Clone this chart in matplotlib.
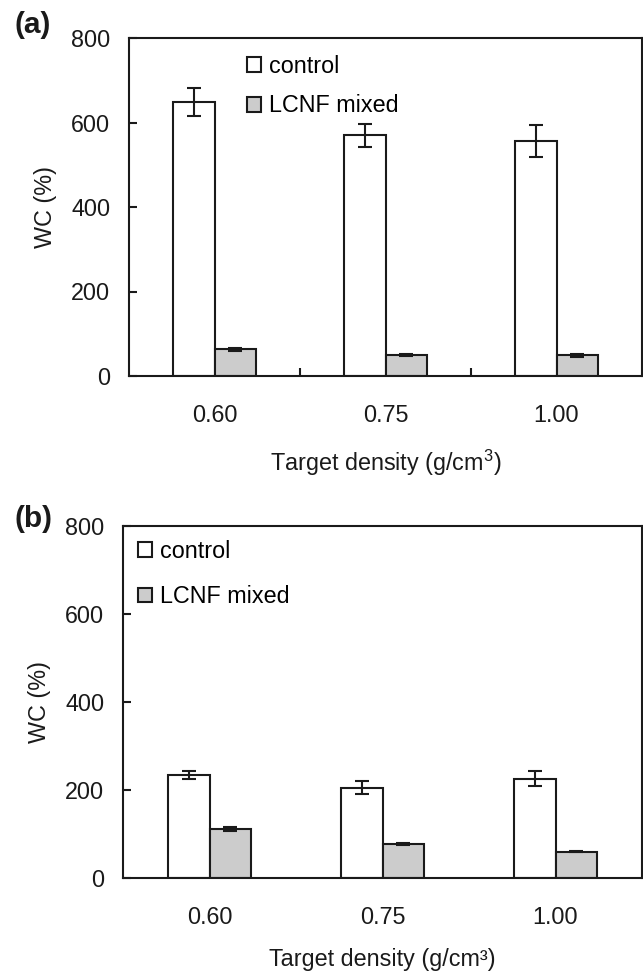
import matplotlib
matplotlib.use("Agg")
import matplotlib.pyplot as plt
import numpy as np

plt.rcParams['font.family'] = ['Liberation Sans', 'DejaVu Sans']
plt.rcParams['mathtext.default'] = 'regular'

# Data
densities = ["0.60", "0.75", "1.00"]
series = ["control", "LCNF mixed"]

# (a)
a_control = [648, 570, 556]
a_control_err = [33, 27, 37]
a_lcnf = [63, 50, 49]
a_lcnf_err = [3, 3, 3]

# (b)
b_control = [234, 205, 226]
b_control_err = [9, 15, 17]
b_lcnf = [111, 77, 60]
b_lcnf_err = [5, 3, 0.5]

fs = 16.8
w = 0.24
gray = "#cccccc"

fig = plt.figure(figsize=(6.43, 9.73), dpi=100)
ax_a = fig.add_axes([129 / 643, 1 - 376 / 973, 513 / 643, 338 / 973])
ax_b = fig.add_axes([123 / 643, 1 - 878 / 973, 519 / 643, 352 / 973])


def draw(ax, ctrl, ctrl_err, lcnf, lcnf_err):
    x = np.arange(len(densities))
    ekw = dict(elinewidth=1.5, capthick=1.5, ecolor="#1a1a1a")
    ax.bar(x - w / 2, ctrl, w, yerr=ctrl_err, capsize=5.3, color="white",
           edgecolor="#1a1a1a", linewidth=1.5, label=series[0], error_kw=ekw, zorder=2)
    ax.bar(x + w / 2, lcnf, w, yerr=lcnf_err, capsize=5.3, color=gray,
           edgecolor="#1a1a1a", linewidth=1.5, label=series[1], error_kw=ekw, zorder=2)
    ax.set_xlim(-0.5, len(densities) - 0.5)
    ax.set_ylim(0, 800)
    ax.set_yticks([0, 200, 400, 600, 800])
    ax.set_xticks(x)
    ax.set_xticklabels(densities)
    ax.tick_params(axis="y", direction="in", length=5.8, width=1.5, pad=13.5,
                   labelsize=fs, colors="#1a1a1a")
    ax.tick_params(axis="x", length=0, pad=20, labelsize=fs, colors="#1a1a1a")
    for s in ax.spines.values():
        s.set_linewidth(1.5)
        s.set_color("#1a1a1a")
    ax.set_ylabel("WC (%)", fontsize=fs, color="#1a1a1a")


draw(ax_a, a_control, a_control_err, a_lcnf, a_lcnf_err)
draw(ax_b, b_control, b_control_err, b_lcnf, b_lcnf_err)

# category separators on panel (a)
ax_a.set_xticks([0.5, 1.5], minor=True)
ax_a.tick_params(axis="x", which="minor", direction="in", length=5.5, width=1.5,
                 color="#1a1a1a")

ax_a.set_xlabel("Target density (g/cm$^3$)", fontsize=fs, color="#1a1a1a")
ax_b.set_xlabel("Target density (g/cm³)", fontsize=fs, color="#1a1a1a")
ax_a.xaxis.set_label_coords(0.5, -0.213)
ax_b.xaxis.set_label_coords(0.5, -0.198)
ax_a.yaxis.set_label_coords(-0.140, 0.5)
ax_b.yaxis.set_label_coords(-0.139, 0.5)

ax_a.legend(loc="upper left", bbox_to_anchor=(0.2306, 0.950), frameon=False,
            fontsize=fs, handlelength=0.6, handleheight=0.6, handletextpad=0.33,
            labelspacing=0.71, borderpad=0, borderaxespad=0)
ax_b.legend(loc="upper left", bbox_to_anchor=(0.0295, 0.960), frameon=False,
            fontsize=fs, handlelength=0.6, handleheight=0.6, handletextpad=0.33,
            labelspacing=0.95, borderpad=0, borderaxespad=0)

fig.text(14 / 643, 1 - 11 / 973, "(a)", fontsize=21.5, fontweight="bold",
         ha="left", va="top", color="#1a1a1a")
fig.text(14 / 643, 1 - 505 / 973, "(b)", fontsize=21.5, fontweight="bold",
         ha="left", va="top", color="#1a1a1a")

fig.savefig("out.png", dpi=100)
